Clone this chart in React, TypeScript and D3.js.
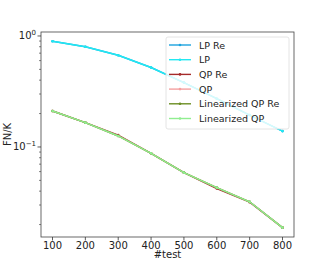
import React from 'react';
import * as d3 from 'd3';

const tests = [100, 200, 300, 400, 500, 600, 700, 800];
const lpRe = [0.896, 0.8, 0.67, 0.52, 0.38, 0.272, 0.194, 0.139];
const lp = [0.896, 0.8, 0.67, 0.52, 0.38, 0.272, 0.194, 0.139];
const qpRe = [0.211, 0.1656, 0.128, 0.0877, 0.0587, 0.0422, 0.0318, 0.01875];
const qp = [0.211, 0.1656, 0.1256, 0.0877, 0.0587, 0.043, 0.0321, 0.01875];
const linQpRe = [0.211, 0.1656, 0.1256, 0.0877, 0.0587, 0.043, 0.0321, 0.01875];
const linQp = [0.211, 0.1656, 0.1256, 0.0877, 0.0587, 0.043, 0.0321, 0.01875];

const seriesNames = ['LP Re', 'LP', 'QP Re', 'QP', 'Linearized QP Re', 'Linearized QP'];
const seriesValues = [lpRe, lp, qpRe, qp, linQpRe, linQp];
const seriesColors = ['#1ca3de', '#22e8f2', '#a52a2a', '#f4a0a0', '#6b8e23', '#90ee90'];

const xTicks = [100, 200, 300, 400, 500, 600, 700, 800];
const yMajor = [0.1, 1];
const yMajorExp = ['−1', '0'];

const font = 'DejaVu Sans, sans-serif';

const App = () => {
  const left = 41, right = 294, top = 32, bottom = 237;
  const x = d3.scaleLinear().domain([65, 835]).range([left, right]);
  const y = d3.scaleLog().domain([0.01545, 1.086]).range([bottom, top]);

  const minor: number[] = [];
  [0.01, 0.1].forEach(b => {
    for (let k = 2; k <= 9; k++) {
      const v = b * k;
      if (v >= 0.01545 && v <= 1.086) minor.push(v);
    }
  });

  const line = d3.line<number>()
    .x((_, i) => x(tests[i]))
    .y(d => y(d));

  const legX = 166, legY = 37, legW = 123, legH = 92, rowH = 14.7;

  return (
    <svg width={327} height={266} style={{ position: 'absolute', left: 0, top: 0 }} fontFamily={font}>
      <rect width={327} height={266} fill="#fff" />
      {seriesValues.map((vals, s) => (
        <g key={s}>
          <path d={line(vals)!} fill="none" stroke={seriesColors[s]} strokeWidth={1.4} />
          {vals.map((v, i) => (
            <circle key={i} cx={x(tests[i])} cy={y(v)} r={1.3} fill={seriesColors[s]} />
          ))}
        </g>
      ))}
      <rect x={left} y={top} width={right - left} height={bottom - top} fill="none" stroke="#444" strokeWidth={0.8} />
      {xTicks.map(t => (
        <g key={t}>
          <line x1={x(t)} x2={x(t)} y1={bottom} y2={bottom + 3.5} stroke="#333" strokeWidth={0.8} />
          <text x={x(t)} y={bottom + 12} fontSize={10} textAnchor="middle" fill="#222">{t}</text>
        </g>
      ))}
      {minor.map(v => (
        <line key={v} x1={left - 2} x2={left} y1={y(v)} y2={y(v)} stroke="#333" strokeWidth={0.6} />
      ))}
      {yMajor.map((v, i) => (
        <g key={v}>
          <line x1={left - 3.5} x2={left} y1={y(v)} y2={y(v)} stroke="#333" strokeWidth={0.8} />
          <text x={left - 5} y={y(v) + 3.5} fontSize={10} textAnchor="end" fill="#222">
            10<tspan fontSize={7} dy={-4}>{yMajorExp[i]}</tspan>
          </text>
        </g>
      ))}
      <text x={(left + right) / 2} y={258} fontSize={10} textAnchor="middle" fill="#222">#test</text>
      <text transform={`translate(11,${(top + bottom) / 2}) rotate(-90)`} fontSize={10} textAnchor="middle" fill="#222">FN/K</text>
      <g>
        <rect x={legX} y={legY} width={legW} height={legH} rx={2} fill="#fff" fillOpacity={0.8} stroke="#ddd" strokeWidth={0.8} />
        {seriesNames.map((n, i) => {
          const yy = legY + 8 + i * rowH;
          return (
            <g key={n}>
              <line x1={legX + 3} x2={legX + 25} y1={yy} y2={yy} stroke={seriesColors[i]} strokeWidth={1.4} />
              <circle cx={legX + 14} cy={yy} r={1.3} fill={seriesColors[i]} />
              <text x={legX + 33} y={yy + 3.5} fontSize={9.5} fill="#222">{n}</text>
            </g>
          );
        })}
      </g>
    </svg>
  );
};

export default App;
